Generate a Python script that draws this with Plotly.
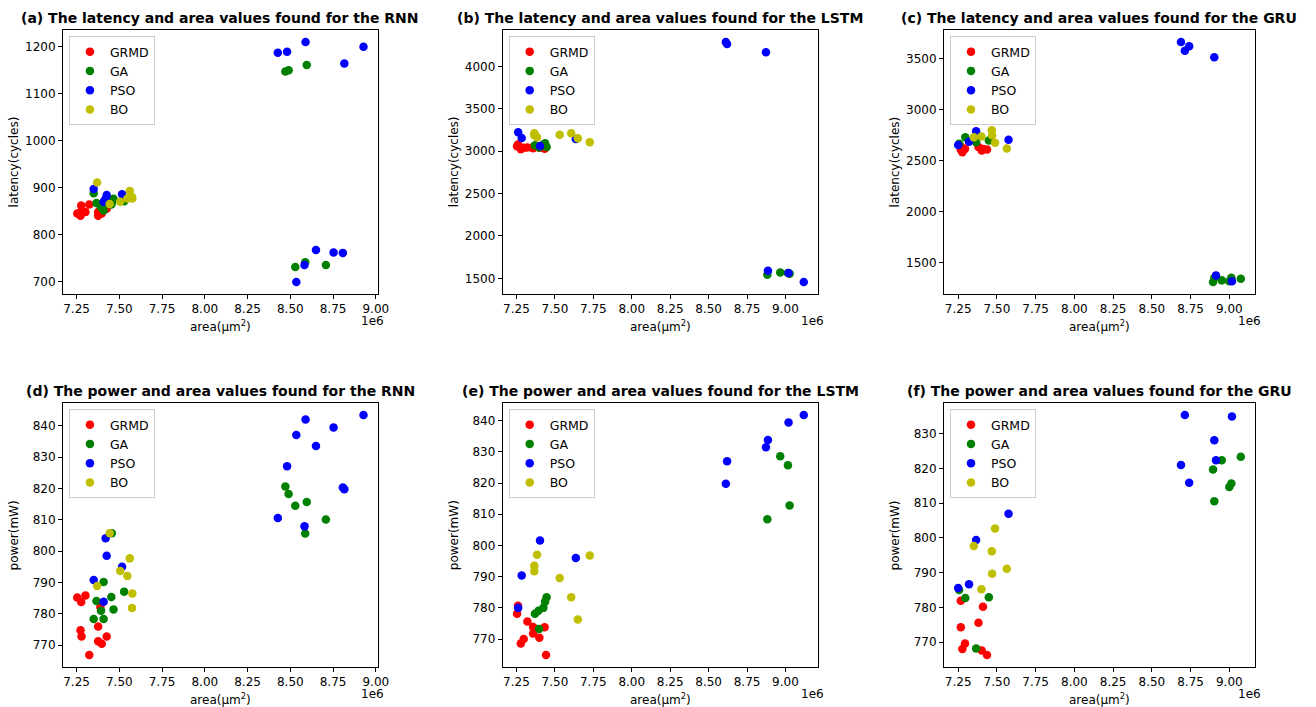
import plotly.graph_objects as go

# ---------------- data (area in units of 1e6 um^2) ----------------
algorithms = ["GRMD", "GA", "PSO", "BO"]
colors = ["#ff0000", "#008000", "#0000ff", "#bfbf00"]
networks = ["RNN", "LSTM", "GRU"]

# RNN
rnn_grmd_area = [7.254, 7.277, 7.302, 7.273, 7.279, 7.324, 7.376, 7.376, 7.397, 7.426, 7.389]
rnn_grmd_latency = [845, 862, 848, 840, 850, 864, 840, 848, 845, 855, 852]
rnn_grmd_power = [785.2, 783.8, 785.9, 774.8, 772.8, 766.9, 776.0, 771.3, 770.5, 772.8, 782.2]

rnn_ga_area = [8.471, 8.490, 8.596, 8.529, 8.708, 8.587, 7.456, 7.408, 7.528, 7.453, 7.366, 7.466, 7.393, 7.350, 7.408]
rnn_ga_latency = [1147, 1150, 1161, 731, 735, 741, 868, 861, 871, 864, 867, 876, 858, 888, 851]
rnn_ga_power = [820.6, 818.2, 815.7, 814.5, 810.1, 805.6, 805.7, 790.2, 787.1, 785.4, 784.1, 781.4, 781.0, 778.4, 778.4]

rnn_pso_area = [8.928, 8.589, 8.753, 8.535, 8.650, 8.481, 8.807, 8.816, 8.427, 8.583, 7.420, 7.426, 7.516, 7.350, 7.408]
rnn_pso_latency = [1200, 1210, 762, 699, 767, 1189, 761, 1164, 1187, 735, 876, 884, 886, 897, 870]
rnn_pso_power = [843.4, 842.0, 839.4, 837.0, 833.5, 827.1, 820.3, 819.7, 810.6, 807.9, 804.1, 798.5, 795.0, 790.8, 783.9]

rnn_bo_area = [7.443, 7.561, 7.505, 7.547, 7.370, 7.576, 7.574]
rnn_bo_latency = [865, 893, 870, 877, 911, 877, 880]
rnn_bo_power = [805.7, 797.7, 793.7, 792.1, 788.9, 786.5, 781.9]

# LSTM
lstm_grmd_area = [7.260, 7.254, 7.321, 7.358, 7.358, 7.433, 7.399, 7.297, 7.278, 7.442]
lstm_grmd_latency = [3080, 3060, 3045, 3050, 3035, 3030, 3040, 3040, 3025, 3045]
lstm_grmd_power = [780.7, 778.1, 775.6, 773.9, 771.8, 773.8, 770.4, 770.0, 768.6, 764.9]

lstm_ga_area = [8.966, 9.016, 9.027, 8.882, 7.446, 7.436, 7.425, 7.393, 7.370, 7.397]
lstm_ga_latency = [1570, 1562, 1555, 1543, 3050, 3094, 3080, 3060, 3070, 3045]
lstm_ga_power = [828.6, 825.7, 812.8, 808.4, 783.4, 782.0, 780.0, 779.1, 778.1, 773.2]

lstm_pso_area = [9.119, 9.020, 8.886, 8.873, 8.620, 8.612, 7.403, 7.636, 7.284, 7.261]
lstm_pso_latency = [1457, 1562, 1590, 4168, 4266, 4289, 3063, 3145, 3156, 3223]
lstm_pso_power = [841.8, 839.4, 833.8, 831.5, 827.0, 819.8, 801.6, 796.0, 790.4, 780.0]

lstm_bo_area = [7.727, 7.384, 7.366, 7.366, 7.531, 7.606, 7.649]
lstm_bo_latency = [3105, 3164, 3211, 3190, 3195, 3211, 3152]
lstm_bo_power = [796.8, 797.0, 793.5, 791.7, 789.6, 783.4, 776.3]

# GRU
gru_grmd_area = [7.267, 7.410, 7.267, 7.381, 7.294, 7.277, 7.402, 7.436]
gru_grmd_latency = [2640, 2615, 2608, 2634, 2616, 2583, 2601, 2611]
gru_grmd_power = [781.9, 780.2, 774.3, 775.6, 769.6, 768.0, 767.6, 766.3]

gru_ga_area = [9.074, 8.951, 8.895, 9.013, 9.000, 8.903, 7.256, 7.296, 7.448, 7.366]
gru_ga_latency = [1341, 1324, 1308, 1350, 1315, 1347, 2667, 2729, 2699, 2680]
gru_ga_power = [823.4, 822.4, 819.7, 815.7, 814.7, 810.6, 785.0, 782.7, 782.9, 768.2]

gru_pso_area = [8.713, 9.017, 8.903, 8.914, 8.688, 8.741, 7.575, 7.366, 7.320, 7.250]
gru_pso_latency = [3581, 1315, 3516, 1373, 3666, 3624, 2705, 2788, 2687, 2654]
gru_pso_power = [835.4, 835.0, 828.1, 822.4, 821.0, 815.9, 807.0, 799.4, 786.7, 785.6]

gru_bo_area = [7.488, 7.351, 7.467, 7.564, 7.469, 7.400]
gru_bo_latency = [2677, 2729, 2800, 2620, 2751, 2738]
gru_bo_power = [802.7, 797.7, 796.2, 791.1, 789.7, 785.2]

x_ticks = [7.25, 7.50, 7.75, 8.00, 8.25, 8.50, 8.75, 9.00]
latency_ticks = {
    "RNN": [700, 800, 900, 1000, 1100, 1200],
    "LSTM": [1500, 2000, 2500, 3000, 3500, 4000],
    "GRU": [1500, 2000, 2500, 3000, 3500],
}
power_ticks = {
    "RNN": [770, 780, 790, 800, 810, 820, 830, 840],
    "LSTM": [770, 780, 790, 800, 810, 820, 830, 840],
    "GRU": [770, 780, 790, 800, 810, 820, 830],
}

data = {
    "RNN": [(rnn_grmd_area, rnn_grmd_latency, rnn_grmd_power),
            (rnn_ga_area, rnn_ga_latency, rnn_ga_power),
            (rnn_pso_area, rnn_pso_latency, rnn_pso_power),
            (rnn_bo_area, rnn_bo_latency, rnn_bo_power)],
    "LSTM": [(lstm_grmd_area, lstm_grmd_latency, lstm_grmd_power),
             (lstm_ga_area, lstm_ga_latency, lstm_ga_power),
             (lstm_pso_area, lstm_pso_latency, lstm_pso_power),
             (lstm_bo_area, lstm_bo_latency, lstm_bo_power)],
    "GRU": [(gru_grmd_area, gru_grmd_latency, gru_grmd_power),
            (gru_ga_area, gru_ga_latency, gru_ga_power),
            (gru_pso_area, gru_pso_latency, gru_pso_power),
            (gru_bo_area, gru_bo_latency, gru_bo_power)],
}

# ---------------- layout geometry (pixels) ----------------
W, H = 1316, 707
col_px = [(63.5, 381), (507, 825), (952, 1265.5)]
row_px = [(30, 294), (403, 667)]
letters = ["a", "b", "c", "d", "e", "f"]
FONT = "DejaVu Sans"


def padded(vals):
    lo, hi = min(vals), max(vals)
    p = (hi - lo) * 0.05
    return [lo - p, hi + p]


fig = go.Figure()
layout = dict(width=W, height=H, margin=dict(l=0, r=0, t=0, b=0),
              paper_bgcolor="white", plot_bgcolor="white",
              font=dict(family=FONT, size=12, color="black"))
annotations = []

k = 0
for r in range(2):
    for c, net in enumerate(networks):
        k += 1
        sfx = "" if k == 1 else str(k)
        xa, ya = "x" + sfx, "y" + sfx
        leg = "legend" + sfx
        all_x, all_y = [], []
        for a_i, alg in enumerate(algorithms):
            area, lat, pw = data[net][a_i]
            yv = lat if r == 0 else pw
            all_x += area
            all_y += yv
            fig.add_trace(go.Scatter(
                x=area, y=yv, mode="markers", name=alg,
                marker=dict(color=colors[a_i], size=8.5, line=dict(width=0)),
                xaxis=xa, yaxis=ya, legend=leg, showlegend=True))
        x0, x1 = col_px[c]
        y0, y1 = row_px[r]
        tick_vals = latency_ticks[net] if r == 0 else power_ticks[net]
        axis_common = dict(showline=True, linecolor="black", linewidth=1, mirror=True,
                           ticks="outside", ticklen=4, tickcolor="black", tickwidth=1,
                           showgrid=False, zeroline=False,
                           tickfont=dict(family=FONT, size=12, color="black"))
        layout["xaxis" + sfx] = dict(domain=[x0 / W, x1 / W], anchor=ya,
                                     range=padded(all_x), tickvals=x_ticks,
                                     ticktext=["%.2f" % t for t in x_ticks], **axis_common)
        layout["yaxis" + sfx] = dict(domain=[1 - y1 / H, 1 - y0 / H], anchor=xa,
                                     range=padded(all_y), tickvals=tick_vals,
                                     ticktext=[str(t) for t in tick_vals], **axis_common)
        layout[leg] = dict(x=(x0 + 6) / W, y=1 - (y0 + 6) / H, xanchor="left", yanchor="top",
                           bgcolor="rgba(255,255,255,0.8)", bordercolor="#cccccc", borderwidth=1,
                           font=dict(family=FONT, size=12.5, color="black"),
                           itemwidth=30, tracegroupgap=0)
        # titles
        kind = "latency" if r == 0 else "power"
        annotations.append(dict(
            text="<b>(%s) The %s and area values found for the %s</b>" % (letters[k - 1], kind, net),
            x=(x0 + x1) / 2 / W, y=1 - (y0 - 12) / H, xref="paper", yref="paper",
            xanchor="center", yanchor="middle", showarrow=False,
            font=dict(family=FONT, size=14, color="black")))
        # x label
        annotations.append(dict(
            text="area(μm<sup>2</sup>)", x=(x0 + x1) / 2 / W, y=1 - (y1 + 32) / H,
            xref="paper", yref="paper", xanchor="center", yanchor="middle", showarrow=False,
            font=dict(family=FONT, size=12, color="black")))
        # offset text
        annotations.append(dict(
            text="1e6", x=(x1 + 8) / W, y=1 - (y1 + 27) / H, xref="paper", yref="paper",
            xanchor="right", yanchor="middle", showarrow=False,
            font=dict(family=FONT, size=12, color="black")))
        # y label
        annotations.append(dict(
            text="latency(cycles)" if r == 0 else "power(mW)",
            x=(x0 - 49) / W, y=1 - (y0 + y1) / 2 / H, xref="paper", yref="paper",
            xanchor="center", yanchor="middle", textangle=-90, showarrow=False,
            font=dict(family=FONT, size=12, color="black")))

layout["annotations"] = annotations
fig.update_layout(**layout)
fig.write_html("out.html", config={"displayModeBar": False},
               post_script="document.body.style.margin='0';document.body.style.overflow='hidden';")
